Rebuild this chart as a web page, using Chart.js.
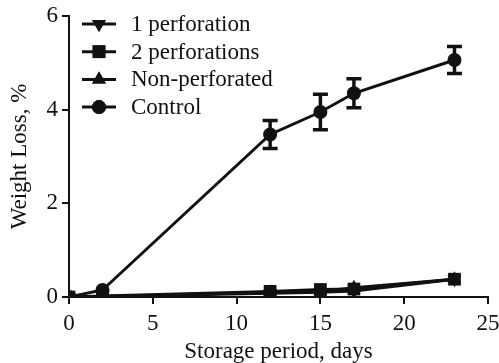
<!DOCTYPE html>
<html>
<head>
<meta charset="utf-8">
<script src="https://cdn.jsdelivr.net/npm/chart.js@4"></script>
<style>
  html, body { margin: 0; padding: 0; background: #fff; }
  #wrap { width: 499px; height: 363px; position: relative; }
</style>
</head>
<body>
<div id="wrap"><canvas id="myChart"></canvas></div>
<script>
"use strict"

const days = [0, 2, 12, 15, 17, 23];
const onePerforation = [0, 0.01, 0.08, 0.1, 0.13, 0.38];
const twoPerforations = [0, 0.02, 0.12, 0.16, 0.17, 0.38];
const nonPerforated = [0, 0.01, 0.1, 0.12, 0.2, 0.38];
const control = [0, 0.15, 3.47, 3.95, 4.35, 5.06];
const controlError = [0, 0, 0.3, 0.38, 0.31, 0.29];
const xTicks = [0, 5, 10, 15, 20, 25];
const yTicks = [0, 2, 4, 6];

const fontFamily = '"Liberation Serif", "Times New Roman", serif';
const fontSize = 23;
const black = '#111';

function toPoints(values) {
  return days.map((d, i) => ({ x: d, y: values[i] }));
}

function markerRadius(style) {
  if (style === 'rect') return 9;
  if (style === 'triangle') return 8;
  return 7;
}

function makeDataset(label, values, style, rotation) {
  return {
    label: label,
    data: toPoints(values),
    borderColor: black,
    backgroundColor: black,
    borderWidth: 3,
    pointStyle: style,
    pointRotation: rotation,
    pointRadius: markerRadius(style),
    pointBorderWidth: 0,
    tension: 0
  };
}

const errorBarPlugin = {
  id: 'errorBars',
  afterDatasetsDraw(chart) {
    const ctx = chart.ctx;
    const xs = chart.scales.x;
    const ys = chart.scales.y;
    ctx.save();
    ctx.strokeStyle = black;
    ctx.lineWidth = 3.5;
    days.forEach((d, i) => {
      const err = controlError[i];
      if (!err) return;
      const px = xs.getPixelForValue(d);
      const top = ys.getPixelForValue(control[i] + err);
      const bottom = ys.getPixelForValue(control[i] - err);
      ctx.beginPath();
      ctx.moveTo(px, top);
      ctx.lineTo(px, bottom);
      ctx.moveTo(px - 7.5, top);
      ctx.lineTo(px + 7.5, top);
      ctx.moveTo(px - 7.5, bottom);
      ctx.lineTo(px + 7.5, bottom);
      ctx.stroke();
    });
    ctx.restore();
  }
};

const legendPlugin = {
  id: 'insideLegend',
  afterDraw(chart) {
    const ctx = chart.ctx;
    ctx.save();
    ctx.font = fontSize + 'px ' + fontFamily;
    ctx.fillStyle = black;
    ctx.textBaseline = 'middle';
    chart.data.datasets.forEach((ds, i) => {
      const y = 24 + i * 27.7;
      ctx.strokeStyle = black;
      ctx.lineWidth = 3;
      ctx.beginPath();
      ctx.moveTo(82, y);
      ctx.lineTo(116, y);
      ctx.stroke();
      Chart.helpers.drawPoint(ctx, {
        pointStyle: ds.pointStyle,
        rotation: ds.pointRotation,
        radius: ds.pointRadius,
        borderWidth: 0
      }, 99, y);
      ctx.fill();
      ctx.fillText(ds.label, 131, y + 1);
    });
    ctx.restore();
  }
};

const ctx = document.getElementById('myChart').getContext('2d');
const myChart = new Chart(ctx, {
  type: 'line',
  data: {
    datasets: [
      makeDataset('1 perforation', onePerforation, 'triangle', 180),
      makeDataset('2 perforations', twoPerforations, 'rect', 0),
      makeDataset('Non-perforated', nonPerforated, 'triangle', 0),
      makeDataset('Control', control, 'circle', 0)
    ]
  },
  options: {
    responsive: true,
    maintainAspectRatio: false,
    animation: false,
    layout: { padding: { top: 16, right: 11, left: 0, bottom: 0 } },
    plugins: {
      legend: { display: false },
      tooltip: { enabled: false }
    },
    scales: {
      x: {
        type: 'linear',
        min: 0,
        max: 25,
        afterBuildTicks: scale => { scale.ticks = xTicks.map(v => ({ value: v })); },
        afterFit: scale => {
          scale.height = 66;
          scale.paddingLeft = 0;
          scale.paddingRight = 0;
        },
        border: { color: black, width: 2 },
        grid: { drawOnChartArea: false, color: black, lineWidth: 2, tickLength: 7 },
        ticks: { color: black, padding: 6, font: { family: fontFamily, size: fontSize } },
        title: {
          display: true,
          text: 'Storage period, days',
          color: black,
          padding: { top: 3, bottom: 0 },
          font: { family: fontFamily, size: fontSize, lineHeight: 1 }
        }
      },
      y: {
        min: 0,
        max: 6,
        afterBuildTicks: scale => { scale.ticks = yTicks.map(v => ({ value: v })); },
        afterFit: scale => {
          scale.width = 69;
          scale.paddingTop = 0;
          scale.paddingBottom = 0;
        },
        border: { color: black, width: 2 },
        grid: { drawOnChartArea: false, color: black, lineWidth: 2, tickLength: 7 },
        ticks: { color: black, padding: 4, font: { family: fontFamily, size: fontSize } },
        title: {
          display: true,
          text: 'Weight Loss, %',
          color: black,
          padding: { top: 6, bottom: 0 },
          font: { family: fontFamily, size: fontSize }
        }
      }
    }
  },
  plugins: [errorBarPlugin, legendPlugin]
});
</script>
</body>
</html>
